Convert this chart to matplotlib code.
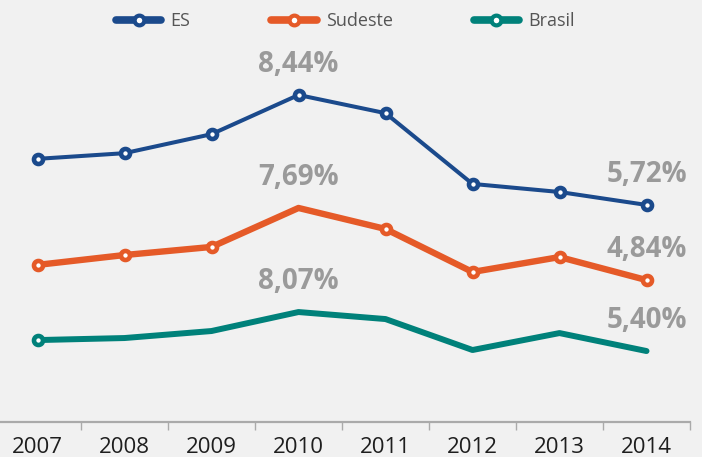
import numpy as np
import matplotlib
matplotlib.use("Agg")
import matplotlib.pyplot as plt
from matplotlib.lines import Line2D

years = ["2007", "2008", "2009", "2010", "2011", "2012", "2013", "2014"]
es = [6.86, 7.00, 7.47, 8.44, 7.99, 6.24, 6.04, 5.72]
sudeste = [5.44, 5.83, 6.15, 7.69, 6.86, 5.16, 5.75, 4.84]
brasil = [6.15, 6.29, 6.77, 8.07, 7.59, 5.47, 6.63, 5.40]

plt.rcParams["font.family"] = ["Open Sans", "DejaVu Sans"]

BG = "#f1f1f1"
C_ES = "#1b4a8c"
C_SE = "#e55a28"
C_BR = "#00817a"
LABEL = "#9a9a9a"

fig = plt.figure(figsize=(7.02, 4.57), dpi=100, facecolor=BG)
ax = fig.add_axes([-6 / 702, 35 / 457, 696 / 702, 382 / 457])
ax.set_facecolor(BG)
ax2 = ax.twinx()
ax3 = ax.twinx()

x = np.arange(len(years))

# each series sits on its own (hidden) vertical scale
series = [
    (ax, es, C_ES, 2.9, list(range(8)), (0.35, 9.80)),
    (ax2, sudeste, C_SE, 4.6, [0, 1, 2, 4, 5, 6, 7], (-0.77, 14.33)),
    (ax3, brasil, C_BR, 4.3, [0], (0.54, 26.7)),
]
for a, vals, col, lw, mk, lim in series:
    a.plot(x, vals, color=col, lw=lw, marker="o", markevery=mk,
           ms=6.5, mew=3.3, mfc="white", mec=col, solid_capstyle="round",
           solid_joinstyle="round", zorder=3)
    a.set_ylim(*lim)
    a.set_xlim(-0.5, len(years) - 0.5)
    a.set_yticks([])
    for s in ["left", "right", "top"]:
        a.spines[s].set_visible(False)
    # labels on peak and last value
    for i in [int(np.argmax(vals)), len(vals) - 1]:
        a.annotate(f"{vals[i]:.2f}%".replace(".", ","), (x[i], vals[i]),
                   xytext=(0, 22), textcoords="offset points", ha="center",
                   va="center", fontsize=20, fontweight="bold", color=LABEL)

for a in [ax2, ax3]:
    a.spines["bottom"].set_visible(False)

ax.spines["bottom"].set_color("#aaaaaa")
ax.spines["bottom"].set_linewidth(1.6)
ax.set_xticks(x)
ax.set_xticklabels(years)
ax.tick_params(axis="x", which="major", length=0, pad=11, labelsize=16,
               labelcolor="#1e1e1e")
ax.set_xticks(np.arange(-0.5, len(years)), minor=True)
ax.tick_params(axis="x", which="minor", length=6, width=1, color="#aaaaaa")

handles = [
    Line2D([], [], color=c, lw=5.5, marker="o", ms=7, mew=3, mfc="white",
           mec=c, solid_capstyle="round")
    for c in [C_ES, C_SE, C_BR]
]
fig.legend(handles, ["ES", "Sudeste", "Brasil"], loc="center",
           bbox_to_anchor=(0.492, 1 - 21 / 457), ncol=3, frameon=False,
           fontsize=13, labelcolor="#555555", handlelength=2.5,
           handletextpad=0.5, columnspacing=4.5)

fig.savefig("out.png", dpi=100, facecolor=BG)
